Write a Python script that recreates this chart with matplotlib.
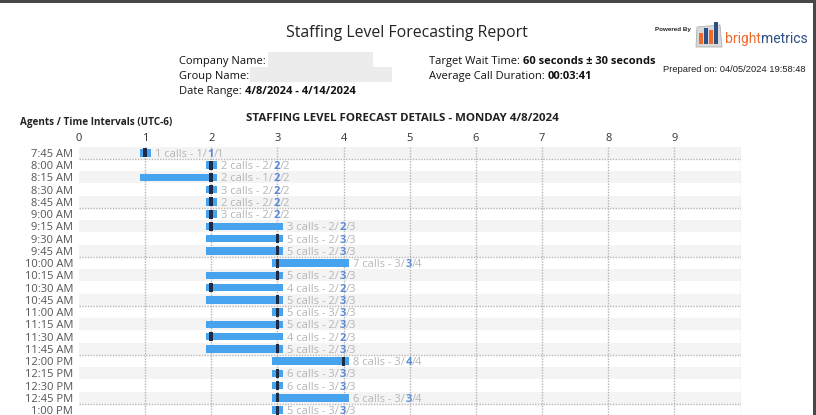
import matplotlib
matplotlib.use("Agg")
import matplotlib.pyplot as plt
from matplotlib.patches import Rectangle, Polygon

# ---------------- data ----------------
times = ["7:45 AM", "8:00 AM", "8:15 AM", "8:30 AM", "8:45 AM", "9:00 AM",
         "9:15 AM", "9:30 AM", "9:45 AM", "10:00 AM", "10:15 AM", "10:30 AM",
         "10:45 AM", "11:00 AM", "11:15 AM", "11:30 AM", "11:45 AM", "12:00 PM",
         "12:15 PM", "12:30 PM", "12:45 PM", "1:00 PM"]
calls = [1, 2, 2, 3, 2, 3, 3, 5, 5, 7, 5, 4, 5, 5, 5, 4, 5, 8, 6, 6, 6, 5]
min_agents = [1, 2, 1, 2, 2, 2, 2, 2, 2, 3, 2, 2, 2, 3, 2, 2, 2, 3, 3, 3, 3, 3]
exp_agents = [1, 2, 2, 2, 2, 2, 2, 3, 3, 3, 3, 2, 3, 3, 3, 2, 3, 4, 3, 3, 3, 3]
max_agents = [1, 2, 2, 2, 2, 2, 3, 3, 3, 4, 3, 3, 3, 3, 3, 3, 3, 4, 3, 3, 4, 3]
x_ticks = [0, 1, 2, 3, 4, 5, 6, 7, 8, 9]
hour_starts = [1, 5, 9, 13, 17, 21]

FONT = ["Open Sans", "DejaVu Sans"]
plt.rcParams["font.family"] = FONT

W, H = 816, 415
fig = plt.figure(figsize=(W / 100, H / 100), dpi=100)
renderer = fig.canvas.get_renderer()

BAR = "#48a3ef"
NAVY = "#1b2b48"
GRID = "#b4b4b4"

# ---------------- axes ----------------
ax_top = 146.7
ax = fig.add_axes([79 / W, 0, (740.5 - 79) / W, (H - ax_top) / H])
n = len(times)
ax.set_xlim(0, 10)
ax.set_ylim(21.4, -0.5)
for s in ax.spines.values():
    s.set_visible(False)

for i in range(n):
    if i % 2 == 0:
        ax.axhspan(i - 0.5, i + 0.5, xmin=0, xmax=1, color="#f4f4f4", lw=0, zorder=0)
for xv in range(1, 11):
    ax.axvline(xv, color=GRID, lw=1, ls=(0, (1, 1)), zorder=1)
for h in hour_starts:
    ax.axhline(h - 0.5, color=GRID, lw=1, ls=(0, (1, 1)), zorder=1)

pad = 0.085
ys = list(range(n))
lefts = [mn - pad for mn in min_agents]
widths = [mx - mn + 2 * pad for mn, mx in zip(min_agents, max_agents)]
ax.barh(ys, widths, left=lefts, height=0.6, color=BAR, zorder=2)
mw = 0.056
ax.barh(ys, [mw] * n, left=[e - mw / 2 for e in exp_agents], height=0.74,
        color=NAVY, zorder=3)

ax.xaxis.tick_top()
ax.set_xticks(x_ticks)
ax.set_xticklabels([str(t) for t in x_ticks], fontsize=8, color="#333333")
ax.set_yticks(ys)
ax.set_yticklabels(times, fontsize=8, color="#555555")
ax.tick_params(axis="both", length=0)
ax.tick_params(axis="x", pad=2)
ax.tick_params(axis="y", pad=4.3)


# ---------------- rich text helper (pixel coords, y from top) ----------------
def rich(x, y, parts, size, **kw):
    for txt, color, weight in parts:
        t = fig.text(x / W, 1 - y / H, txt, fontsize=size, color=color,
                     fontweight=weight, va="baseline", ha="left", **kw)
        bb = t.get_window_extent(renderer)
        x = bb.x1 + 0.3
    return x


# bar labels
GREY = "#b6b6b6"
BLUE = "#5b8ad6"
for i in range(n):
    end = max_agents[i] + pad
    px, py = ax.transData.transform((end, i))
    rich(px + 4, (H - py) + 4,
         [(f"{calls[i]} calls - {min_agents[i]}/", GREY, "normal"),
          (f"{exp_agents[i]}", BLUE, "bold"),
          (f"/{max_agents[i]}", GREY, "normal")], 8)

# ---------------- header ----------------
fig.text(407 / W, 1 - 33 / H, "Staffing Level Forecasting Report", fontsize=11.4,
         color="#222222", ha="center", va="center")

TXT = "#111111"
SZ = 8
rich(179, 64, [("Company Name:", TXT, "normal")], SZ)
rich(179, 79, [("Group Name:", TXT, "normal")], SZ)
xx = rich(179, 94, [("Date Range:", TXT, "normal")], SZ)
rich(xx + 3, 94, [("4/8/2024 - 4/14/2024", TXT, "bold")], SZ)
xx = rich(429, 64, [("Target Wait Time:", TXT, "normal")], SZ)
rich(xx + 3, 64, [("60 seconds ± 30 seconds", TXT, "bold")], SZ)
xx = rich(429, 79, [("Average Call Duration:", TXT, "normal")], SZ)
rich(xx + 3, 79, [("00:03:41", TXT, "bold")], SZ)

# blurred name placeholders
for (x0, y0, w, h) in [(268, 52, 105, 16), (250, 67, 142, 15)]:
    fig.patches.append(Rectangle((x0 / W, 1 - (y0 + h) / H), w / W, h / H,
                                 transform=fig.transFigure, color="#ececec", lw=0))

fig.text(663 / W, 1 - 72 / H, "Prepared on: 04/05/2024 19:58:48", fontsize=6.75,
         color="#222222", ha="left", va="baseline", family="Liberation Sans")

# logo
fig.text(655 / W, 1 - 31 / H, "Powered By", fontsize=4.5, fontweight="bold",
         color="#222222", ha="left", va="baseline", family="Liberation Sans")
xx = rich(725, 43, [("bright", "#ee6a2b", "normal")], 10, family="Roboto")
rich(xx - 0.3, 43, [("metrics", "#2c4f86", "normal")], 10, family="Roboto")
# icon
fig.patches.append(Polygon([(696 / W, 1 - 47 / H), (722 / W, 1 - 47 / H),
                            (720 / W, 1 - 25 / H), (697 / W, 1 - 27 / H)],
                           closed=True, transform=fig.transFigure,
                           facecolor="#d9d9d9", edgecolor="#b0b0b0", lw=0.6))
bars_icon = [(699, 33, "#ee6a2b"), (704, 28, "#2c4f86"), (709, 30, "#ee6a2b"),
             (714, 22, "#2c4f86")]
for bx, btop, bc in bars_icon:
    fig.patches.append(Rectangle((bx / W, 1 - 44 / H), 3.5 / W, (44 - btop) / H,
                                 transform=fig.transFigure, color=bc, lw=0))

fig.text(402 / W, 1 - 121 / H, "STAFFING LEVEL FORECAST DETAILS - MONDAY 4/8/2024",
         fontsize=8.25, fontweight="bold", color="#222222", ha="center", va="baseline")
fig.text(20 / W, 1 - 125 / H, "Agents / Time Intervals (UTC-6)", fontsize=7.1,
         fontweight="bold", color="#222222", ha="left", va="baseline")

# screenshot frame
fig.patches.append(Rectangle((0, 1 - 3 / H), 1, 3 / H, transform=fig.transFigure,
                             color="#484848", lw=0))
fig.patches.append(Rectangle((813 / W, 0), 3 / W, 1, transform=fig.transFigure,
                             color="#484848", lw=0))

fig.savefig("out.png", dpi=100)
